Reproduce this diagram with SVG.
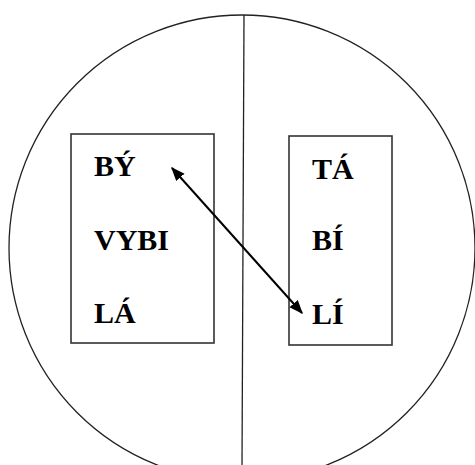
<svg xmlns="http://www.w3.org/2000/svg" width="475" height="465" viewBox="0 0 475 465">
<style>
.t{font-family:"Liberation Serif","Times New Roman",serif;font-size:30px;font-weight:bold;fill:#000}
.b{fill:none;stroke:#333;stroke-width:1.6}
</style>
<defs>
<marker id="ah" viewBox="0 0 10 10" refX="9" refY="5" markerWidth="7" markerHeight="7" orient="auto-start-reverse">
<path d="M0,1 L10,5 L0,9 z" fill="#000"/>
</marker>
</defs>
<rect width="475" height="465" fill="#fff"/>
<g id="circle"><circle cx="242" cy="248" r="233" fill="none" stroke="#222" stroke-width="1.3"/></g>
<g id="divider"><line x1="244" y1="15" x2="242" y2="465" stroke="#222" stroke-width="1.3"/></g>
<g id="left-box">
<rect class="b" x="71" y="134" width="143" height="209"/>
<text class="t" x="94" y="176">BÝ</text>
<text class="t" x="94" y="250">VYBI</text>
<text class="t" x="94" y="323">LÁ</text>
</g>
<g id="right-box">
<rect class="b" x="289" y="136" width="103" height="209"/>
<text class="t" x="312" y="179">TÁ</text>
<text class="t" x="312" y="250">BÍ</text>
<text class="t" x="312" y="324">LÍ</text>
</g>
<g id="connectors">
<line x1="172" y1="168" x2="302" y2="313" stroke="#000" stroke-width="2" marker-start="url(#ah)" marker-end="url(#ah)"/>
</g>
</svg>
